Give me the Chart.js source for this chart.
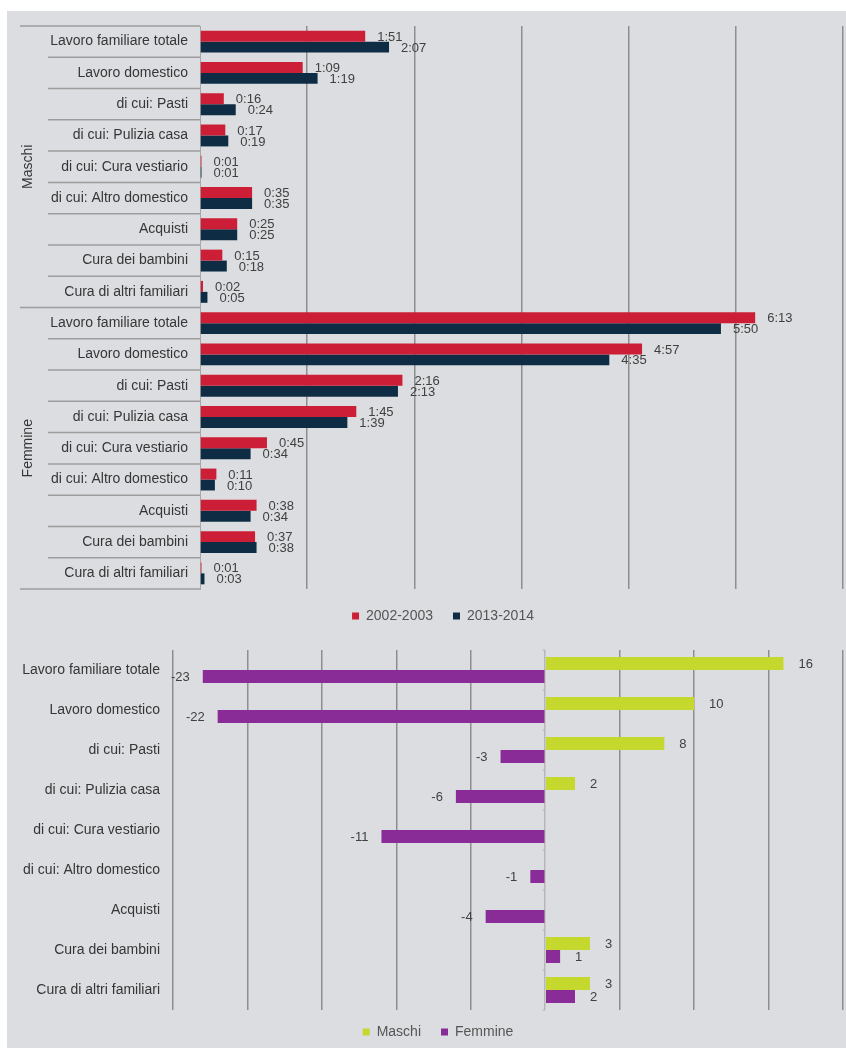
<!DOCTYPE html>
<html>
<head>
<meta charset="utf-8">
<script src="https://cdn.jsdelivr.net/npm/chart.js@4.4.1/dist/chart.umd.min.js"></script>
<style>
  html, body { margin: 0; padding: 0; background: #ffffff; overflow: hidden; }
  #panel { position: absolute; left: 7px; top: 11px; width: 839px; height: 1037px; background: #dcdde0; }
  #wrapTop { position: absolute; left: 0; top: 0; width: 839px; height: 626px; }
  #wrapBottom { position: absolute; left: 0; top: 626px; width: 839px; height: 417px; }
</style>
</head>
<body>
<div id="panel">
  <div id="wrapTop"><canvas id="timeChart"></canvas></div>
  <div id="wrapBottom"><canvas id="diffChart"></canvas></div>
</div>
<script>
// Activity categories (same list for both sexes)
const categories = [
  'Lavoro familiare totale',
  'Lavoro domestico',
  'di cui: Pasti',
  'di cui: Pulizia casa',
  'di cui: Cura vestiario',
  'di cui: Altro domestico',
  'Acquisti',
  'Cura dei bambini',
  'Cura di altri familiari'
];
const groups = ['Maschi', 'Femmine'];
const periods = ['2002-2003', '2013-2014'];

// Average daily time, in minutes
const maschi2002 = [111, 69, 16, 17, 1, 35, 25, 15, 2];
const maschi2013 = [127, 79, 24, 19, 1, 35, 25, 18, 5];
const femmine2002 = [373, 297, 136, 105, 45, 11, 38, 37, 1];
const femmine2013 = [350, 275, 133, 99, 34, 10, 34, 38, 3];

// Change between the two periods, in minutes
const diffMaschi = [16, 10, 8, 2, 0, 0, 0, 3, 3];
const diffFemmine = [-23, -22, -3, -6, -11, -1, -4, 1, 2];

// Time axis: 0 to 7:12, gridline every 1:12
const timeAxisMax = 432;
const timeAxisStep = 72;
const diffAxisMin = -25;
const diffAxisMax = 20;
const diffAxisStep = 5;

const FONT = "'Liberation Sans', Arial, sans-serif";
Chart.defaults.font.family = FONT;
Chart.defaults.font.size = 14;
Chart.defaults.color = '#3a3a3a';

const COLORS = {
  red: '#cc1f37',
  navy: '#0f2c45',
  lime: '#c4d82d',
  purple: '#8a2c98',
  grid: '#8e8e8e',
  zero: '#b7b7b7',
  sep: '#9d9d9d',
  label: '#363636',
  value: '#404040',
  legend: '#555555'
};

function hhmm(min) {
  const h = Math.floor(min / 60);
  const m = min % 60;
  return h + ':' + String(m).padStart(2, '0');
}

// Value labels at the end of each bar
const valueLabels = {
  id: 'valueLabels',
  afterDatasetsDraw(chart, args, opts) {
    const ctx = chart.ctx;
    ctx.save();
    ctx.font = '13px ' + FONT;
    ctx.fillStyle = COLORS.value;
    ctx.textBaseline = 'middle';
    chart.data.datasets.forEach((ds, di) => {
      const meta = chart.getDatasetMeta(di);
      meta.data.forEach((bar, i) => {
        const v = ds.data[i];
        if (opts.skipZero && v === 0) return;
        const text = opts.format(v);
        if (v >= 0) {
          ctx.textAlign = 'left';
          ctx.fillText(text, bar.x + opts.posOffset, bar.y + 1);
        } else {
          ctx.textAlign = 'right';
          ctx.fillText(text, bar.x - opts.negOffset, bar.y + 1);
        }
      });
    });
    ctx.restore();
  }
};

// Row separators and group titles beside the category labels
const rowTable = {
  id: 'rowTable',
  afterDraw(chart, args, opts) {
    const y = chart.scales.y;
    const n = chart.data.labels.length;
    const half = (y.getPixelForValue(1) - y.getPixelForValue(0)) / 2;
    const ctx = chart.ctx;
    const right = chart.chartArea.left;
    ctx.save();
    ctx.strokeStyle = COLORS.sep;
    ctx.lineWidth = 1.5;
    for (let i = 0; i <= n; i++) {
      const py = (i < n ? y.getPixelForValue(i) - half : y.getPixelForValue(n - 1) + half);
      const groupEdge = i % opts.groupSize === 0;
      ctx.beginPath();
      ctx.moveTo(groupEdge ? opts.outerLeft : opts.innerLeft, py);
      ctx.lineTo(right, py);
      ctx.stroke();
    }
    ctx.fillStyle = COLORS.label;
    ctx.font = '14px ' + FONT;
    ctx.textAlign = 'center';
    ctx.textBaseline = 'middle';
    opts.groups.forEach((g, gi) => {
      const first = gi * opts.groupSize;
      const last = first + opts.groupSize - 1;
      const cy = (y.getPixelForValue(first) + y.getPixelForValue(last)) / 2;
      ctx.save();
      ctx.translate(opts.titleX, cy);
      ctx.rotate(-Math.PI / 2);
      ctx.fillText(g, 0, 0);
      ctx.restore();
    });
    ctx.restore();
  }
};

// Short marks on the zero line between categories
const zeroMarks = {
  id: 'zeroMarks',
  afterDatasetsDraw(chart) {
    const y = chart.scales.y;
    const x0 = chart.scales.x.getPixelForValue(0);
    const n = chart.data.labels.length;
    const half = (y.getPixelForValue(1) - y.getPixelForValue(0)) / 2;
    const ctx = chart.ctx;
    ctx.save();
    ctx.strokeStyle = COLORS.zero;
    ctx.lineWidth = 1;
    for (let i = 0; i <= n; i++) {
      const py = (i < n ? y.getPixelForValue(i) - half : y.getPixelForValue(n - 1) + half);
      ctx.beginPath();
      ctx.moveTo(x0 - 3, py);
      ctx.lineTo(x0, py);
      ctx.stroke();
    }
    ctx.restore();
  }
};

// Moves the legend box after layout
const legendNudge = {
  id: 'legendNudge',
  afterLayout(chart, args, opts) {
    const l = chart.legend;
    if (!l) return;
    l.left += opts.dx; l.right += opts.dx;
    l.top += opts.dy; l.bottom += opts.dy;
  }
};

// Category axis without the automatic label padding above/below
function fixedLabelAxis(width) {
  return function (scale) {
    scale.width = width;
    scale.paddingTop = 0;
    scale.paddingBottom = 0;
  };
}

const rowLabels = categories.concat(categories);

new Chart(document.getElementById('timeChart'), {
  type: 'bar',
  data: {
    labels: rowLabels,
    datasets: [
      { label: periods[0], data: maschi2002.concat(femmine2002), backgroundColor: COLORS.red },
      { label: periods[1], data: maschi2013.concat(femmine2013), backgroundColor: COLORS.navy }
    ]
  },
  options: {
    indexAxis: 'y',
    responsive: true,
    maintainAspectRatio: false,
    animation: false,
    categoryPercentage: 0.7,
    barPercentage: 1.0,
    layout: { padding: { top: 15, right: 3, left: 0, bottom: 4 } },
    scales: {
      x: {
        min: 0, max: timeAxisMax,
        ticks: { display: false, stepSize: timeAxisStep },
        grid: {
          drawTicks: false,
          lineWidth: 1.5,
          color: (c) => (c.tick && c.tick.value === 0 ? 'rgba(0,0,0,0)' : COLORS.grid)
        },
        border: { display: false }
      },
      y: {
        ticks: { padding: 12, color: COLORS.label, font: { size: 14 } },
        grid: { display: false, drawTicks: false },
        border: { display: true, color: '#a8a8a8', width: 1 },
        afterFit: fixedLabelAxis(193)
      }
    },
    plugins: {
      legend: {
        position: 'bottom',
        labels: { boxWidth: 7, boxHeight: 7, padding: 20, color: COLORS.legend, font: { size: 14 } }
      },
      tooltip: { enabled: false },
      valueLabels: { format: hhmm, posOffset: 12, negOffset: 12, skipZero: false },
      rowTable: { groups: groups, groupSize: categories.length, outerLeft: 13, innerLeft: 41, titleX: 21 },
      legendNudge: { dx: 18, dy: 0 }
    }
  },
  plugins: [valueLabels, rowTable, legendNudge]
});

new Chart(document.getElementById('diffChart'), {
  type: 'bar',
  data: {
    labels: categories,
    datasets: [
      { label: groups[0], data: diffMaschi, backgroundColor: COLORS.lime },
      { label: groups[1], data: diffFemmine, backgroundColor: COLORS.purple }
    ]
  },
  options: {
    indexAxis: 'y',
    responsive: true,
    maintainAspectRatio: false,
    animation: false,
    categoryPercentage: 0.65,
    barPercentage: 1.0,
    layout: { padding: { top: 13, right: 3, left: 0, bottom: 0 } },
    scales: {
      x: {
        min: diffAxisMin, max: diffAxisMax,
        ticks: { display: false, stepSize: diffAxisStep },
        grid: {
          drawTicks: false,
          lineWidth: 1.5,
          color: (c) => (c.tick && c.tick.value === 0 ? COLORS.zero : COLORS.grid)
        },
        border: { display: false }
      },
      y: {
        ticks: { padding: 13, color: COLORS.label, font: { size: 14 } },
        grid: { display: false, drawTicks: false },
        border: { display: false },
        afterFit: fixedLabelAxis(166)
      }
    },
    plugins: {
      legend: {
        position: 'bottom',
        labels: { boxWidth: 7, boxHeight: 7, padding: 20, color: COLORS.legend, font: { size: 14 } }
      },
      tooltip: { enabled: false },
      valueLabels: { format: (v) => String(v), posOffset: 15, negOffset: 13, skipZero: true },
      legendNudge: { dx: 13, dy: -5 }
    }
  },
  plugins: [valueLabels, zeroMarks, legendNudge]
});
</script>
</body>
</html>
